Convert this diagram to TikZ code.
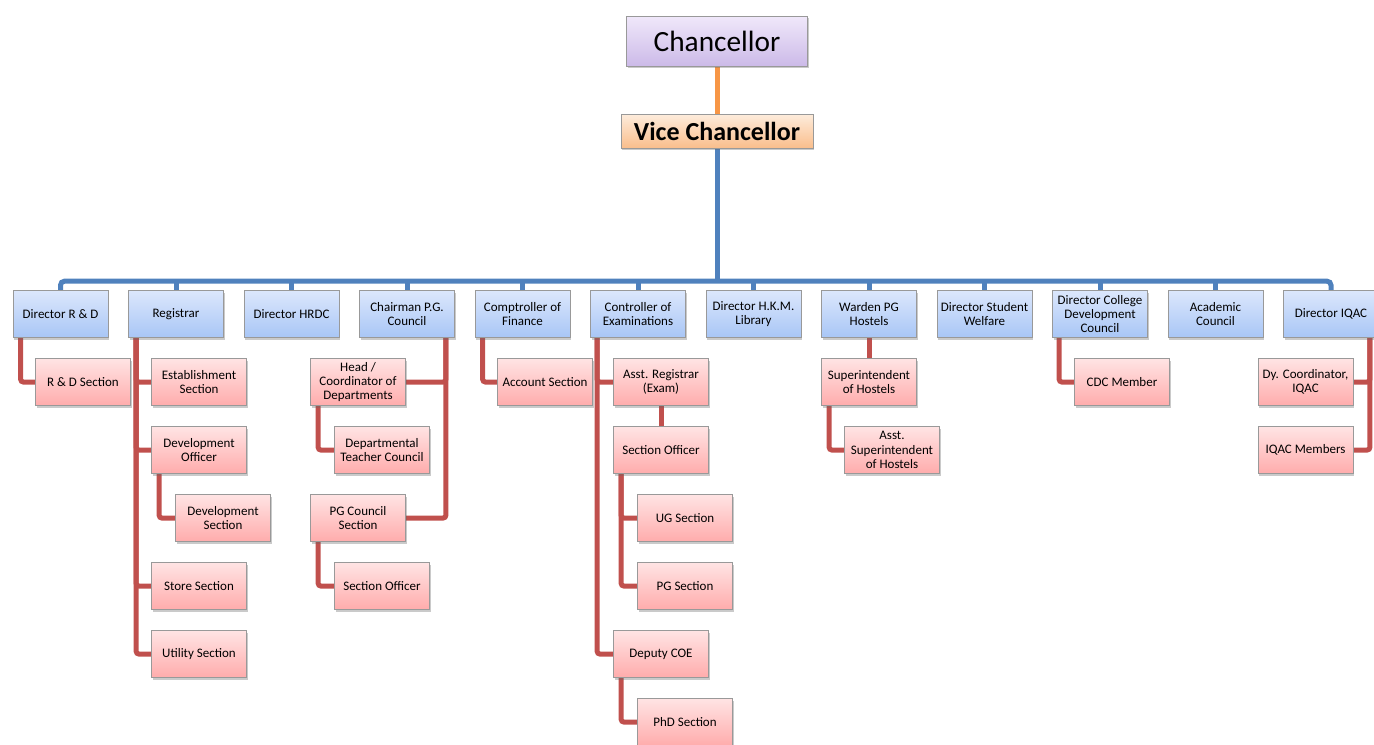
\documentclass[tikz,border=0pt]{standalone}
\usepackage{fontspec}
\setmainfont{Carlito}
\usetikzlibrary{shadows,backgrounds}
\definecolor{bl}{HTML}{4F81BD}
\definecolor{rd}{HTML}{C0504D}
\definecolor{og}{HTML}{F79646}
\definecolor{dirtop}{RGB}{220,231,252}
\definecolor{dirbot}{RGB}{168,198,246}
\definecolor{subtop}{RGB}{255,228,228}
\definecolor{subbot}{RGB}{255,172,172}
\definecolor{chtop}{RGB}{240,232,250}
\definecolor{chbot}{RGB}{204,186,232}
\definecolor{vctop}{RGB}{253,236,220}
\definecolor{vcbot}{RGB}{250,190,140}
\begin{document}
\begin{tikzpicture}[x=0.75pt,y=-0.75pt,
  box/.style={draw=black!40, line width=0.5pt, minimum width=71.25pt, minimum height=35.25pt,
    inner sep=1pt, align=center, font=\fontsize{9.75}{10.7}\selectfont,
    drop shadow={shadow xshift=0.8pt, shadow yshift=-1.8pt, opacity=0.35, fill=black!60}},
  dir/.style={box, top color=dirtop, bottom color=dirbot},
  sub/.style={box, top color=subtop, bottom color=subbot},
  bline/.style={draw=bl, line width=3.75pt, rounded corners=3pt},
  rline/.style={draw=rd, line width=3.75pt, rounded corners=2pt},
  oline/.style={draw=og, line width=3.75pt}]
\useasboundingbox (0,0) rectangle (1374,744);

\node[box, top color=chtop, bottom color=chbot, minimum width=135.75pt, minimum height=37.5pt,
  font=\fontsize{22}{26}\selectfont] (ch) at (717,41) {Chancellor};
\node[box, top color=vctop, bottom color=vcbot, minimum width=144pt, minimum height=25.5pt,
  font=\fontsize{19.5}{23}\selectfont\bfseries] (vc) at (717,131) {Vice Chancellor};

\node[dir] (d1) at (60.5,314) {Director R \& D};
\node[dir] (d2) at (176,314) {Registrar};
\node[dir] (d3) at (291.5,314) {Director HRDC};
\node[dir] (d4) at (407,314) {Chairman P.G.\\Council};
\node[dir] (d5) at (522.5,314) {Comptroller of\\Finance};
\node[dir] (d6) at (638,314) {Controller of\\Examinations};
\node[dir] (d7) at (753.5,314) {Director H.K.M.\\Library};
\node[dir] (d8) at (869,314) {Warden PG\\Hostels};
\node[dir] (d9) at (984.5,314) {Director Student\\Welfare};
\node[dir] (d10) at (1100,314) {Director College\\Development\\Council};
\node[dir] (d11) at (1215.5,314) {Academic\\Council};
\node[dir] (d12) at (1331,314) {Director IQAC};

\node[sub] (rdsec) at (83,382) {R \& D Section};
\node[sub] (est) at (199,382) {Establishment\\Section};
\node[sub] (devo) at (199,450) {Development\\Officer};
\node[sub] (devs) at (223,518) {Development\\Section};
\node[sub] (store) at (199,586) {Store Section};
\node[sub] (util) at (199,654) {Utility Section};
\node[sub] (head) at (358,382) {Head /\\Coordinator of\\Departments};
\node[sub] (dtc) at (382,450) {Departmental\\Teacher Council};
\node[sub] (pgcs) at (358,518) {PG Council\\Section};
\node[sub] (so1) at (382,586) {Section Officer};
\node[sub] (acc) at (545,382) {Account Section};
\node[sub] (asr) at (661,382) {Asst. Registrar\\(Exam)};
\node[sub] (so2) at (661,450) {Section Officer};
\node[sub] (ug) at (685,518) {UG Section};
\node[sub] (pgs) at (685,586) {PG Section};
\node[sub] (dcoe) at (661,654) {Deputy COE};
\node[sub] (phd) at (685,722) {PhD Section};
\node[sub] (sup) at (869,382) {Superintendent\\of Hostels};
\node[sub] (asup) at (892,450) {Asst.\\Superintendent\\of Hostels};
\node[sub] (cdc) at (1122,382) {CDC Member};
\node[sub] (dyc) at (1305.5,382) {Dy. Coordinator,\\IQAC};
\node[sub] (iqm) at (1305.5,450) {IQAC Members};

\begin{scope}[on background layer]
\draw[oline] (ch.south) -- (vc.north);
\coordinate (bar) at (717,282);
\draw[bline] (vc.south) -- (bar);
\draw[bline] (d1.north) -- ++(0,-9) -| (d12.north);
\foreach \n in {d2,d3,d4,d5,d6,d7,d8,d9,d10,d11}
  \draw[bline] (\n.north) -- ++(0,-10);

\draw[rline] (d1.south west) ++(8,0) |- (rdsec.west);
\foreach \n in {est,devo,store,util}
  \draw[rline] (d2.south west) ++(8,0) |- (\n.west);
\draw[rline] (devo.south west) ++(8,0) |- (devs.west);
\foreach \n in {head,pgcs}
  \draw[rline] (d4.south east) ++(-9,0) |- (\n.east);
\draw[rline] (head.south west) ++(8,0) |- (dtc.west);
\draw[rline] (pgcs.south west) ++(8,0) |- (so1.west);
\draw[rline] (d5.south west) ++(8,0) |- (acc.west);
\foreach \n in {asr,dcoe}
  \draw[rline] (d6.south west) ++(7,0) |- (\n.west);
\draw[rline] (asr.south) -- (so2.north);
\foreach \n in {ug,pgs}
  \draw[rline] (so2.south west) ++(8,0) |- (\n.west);
\draw[rline] (dcoe.south west) ++(8,0) |- (phd.west);
\draw[rline] (d8.south) -- (sup.north);
\draw[rline] (sup.south west) ++(8,0) |- (asup.west);
\draw[rline] (d10.south west) ++(7,0) |- (cdc.west);
\foreach \n in {dyc,iqm}
  \draw[rline] (d12.south east) ++(-9,0) |- (\n.east);
\end{scope}
\end{tikzpicture}
\end{document}
